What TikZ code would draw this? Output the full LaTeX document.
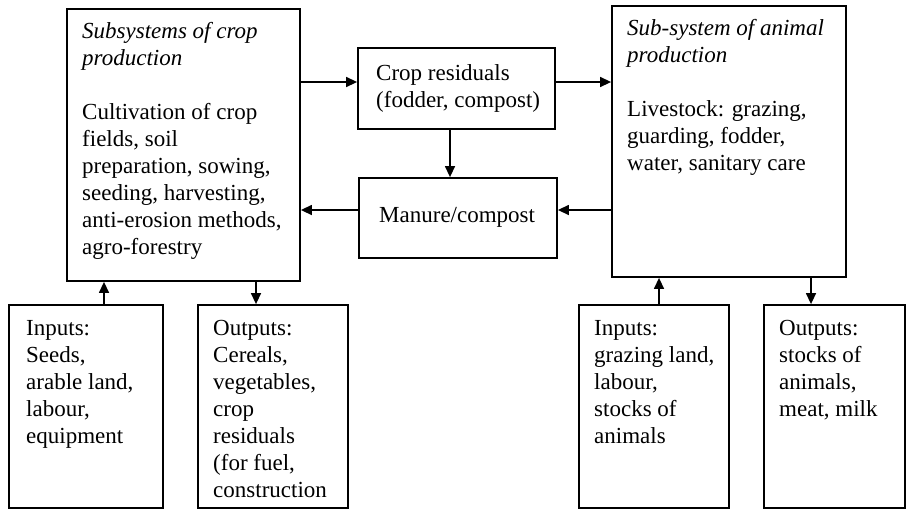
\documentclass[tikz,border=0pt]{standalone}
\usepackage{fontspec}
\setmainfont{Liberation Serif}
\usetikzlibrary{arrows.meta}
\begin{document}
\begin{tikzpicture}[x=1pt,y=-1pt,
 box/.style={draw,line width=1.8pt,inner sep=0pt},
 txt/.style={anchor=base west,inner sep=0pt,align=flush left,text width=240pt,font=\fontsize{23}{27}\selectfont},
 arr/.style={line width=1.4pt,-{Triangle[length=11pt,width=10pt]}}]
\useasboundingbox (0,0) rectangle (907,509);
% boxes
\node[box,minimum width=233,minimum height=272] (crop) at (183.5,145) {};
\node[box,minimum width=197,minimum height=81] (res) at (456.5,88.5) {};
\node[box,minimum width=198,minimum height=80] (man) at (458,218) {};
\node[box,minimum width=234,minimum height=271] (anim) at (729,141.5) {};
\node[box,minimum width=154,minimum height=203] (cin) at (86,406.5) {};
\node[box,minimum width=150,minimum height=203] (cout) at (273,406.5) {};
\node[box,minimum width=150,minimum height=203] (ain) at (654,406.5) {};
\node[box,minimum width=141,minimum height=203] (aout) at (834.5,406.5) {};
% texts
\node[txt] (tcrop) at (82,38) {{\itshape Subsystems of crop}\\{\itshape production}\\[27pt]Cultivation of crop\\fields, soil\\preparation, sowing,\\seeding, harvesting,\\anti-erosion methods,\\agro-forestry};
\node[txt] (tres) at (376,80) {Crop residuals\\(fodder, compost)};
\node[txt] (tman) at (379,222) {Manure/compost};
\node[txt] (tanim) at (627,35) {{\itshape Sub-system of animal}\\{\itshape production}\\[27pt]Livestock: grazing,\\guarding, fodder,\\water, sanitary care};
\node[txt] (tcin) at (26,335) {Inputs:\\Seeds,\\arable land,\\labour,\\equipment};
\node[txt] (tcout) at (213,335) {Outputs:\\Cereals,\\vegetables,\\crop\\residuals\\(for fuel,\\construction};
\node[txt] (tain) at (594,335) {Inputs:\\grazing land,\\labour,\\stocks of\\animals};
\node[txt] (taout) at (779,335) {Outputs:\\stocks of\\animals,\\meat, milk};
% connector anchors
\coordinate (r1) at ([yshift=6.5pt]res.west);
\coordinate (r2) at ([yshift=6.5pt]res.east);
\coordinate (r3) at ([xshift=-6.5pt]res.south);
\coordinate (m1) at ([yshift=8pt]man.east);
\coordinate (m2) at ([yshift=8pt]man.west);
\coordinate (ci) at ([xshift=18pt]cin.north);
\coordinate (co) at ([xshift=-17pt]cout.north);
\coordinate (ai) at ([xshift=5pt]ain.north);
\coordinate (ao) at ([xshift=-23.5pt]aout.north);
% connectors
\draw[arr] (crop.east |- r1) -- (r1);
\draw[arr] (r2) -- (anim.west |- r2);
\draw[arr] (r3) -- (r3 |- man.north);
\draw[arr] (anim.west |- m1) -- (m1);
\draw[arr] (m2) -- (crop.east |- m2);
\draw[arr] (ci) -- (ci |- crop.south);
\draw[arr] (co |- crop.south) -- (co);
\draw[arr] (ai) -- (ai |- anim.south);
\draw[arr] (ao |- anim.south) -- (ao);
\end{tikzpicture}
\end{document}
